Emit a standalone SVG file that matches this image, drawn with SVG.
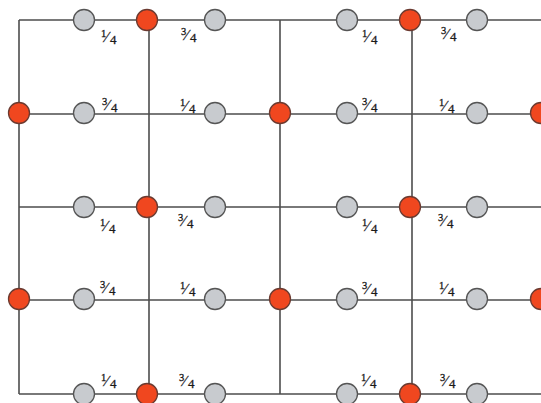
<svg xmlns="http://www.w3.org/2000/svg" width="541" height="403" viewBox="0 0 541 403">
<style>
.ln{stroke:#4d4d4d;stroke-width:1.6;fill:none}
.g{fill:#c8cbcf;stroke:#555;stroke-width:1.3}
.o{fill:#f0471f;stroke:#6b3a30;stroke-width:1.3}
.lb{font-family:"Liberation Serif","Times New Roman",serif;fill:#1a1a1a;stroke:#1a1a1a;stroke-width:0.3}
.n{font-size:10.5px}
.s{font-size:15px}
.d{font-size:13px}
</style>
<rect width="541" height="403" fill="#fff"/>
<g id="connectors">
<line class="ln" x1="19" y1="20" x2="541" y2="20"/>
<line class="ln" x1="19" y1="114" x2="541" y2="114"/>
<line class="ln" x1="19" y1="207" x2="541" y2="207"/>
<line class="ln" x1="19" y1="300" x2="541" y2="300"/>
<line class="ln" x1="19" y1="394" x2="541" y2="394"/>
<line class="ln" x1="19" y1="20" x2="19" y2="394"/>
<line class="ln" x1="149" y1="20" x2="149" y2="394"/>
<line class="ln" x1="280" y1="20" x2="280" y2="394"/>
<line class="ln" x1="412" y1="20" x2="412" y2="394"/>
</g>
<g id="nodes">
<g id="r1c2"><circle class="g" cx="84" cy="20" r="10.5"/></g>
<g id="r1c3"><circle class="o" cx="147" cy="20" r="10.5"/></g>
<g id="r1c4"><circle class="g" cx="215" cy="20" r="10.5"/></g>
<g id="r1c6"><circle class="g" cx="347" cy="20" r="10.5"/></g>
<g id="r1c7"><circle class="o" cx="410" cy="20" r="10.5"/></g>
<g id="r1c8"><circle class="g" cx="477" cy="20" r="10.5"/></g>

<g id="r2c1"><circle class="o" cx="19" cy="113" r="10.5"/></g>
<g id="r2c2"><circle class="g" cx="84" cy="113" r="10.5"/></g>
<g id="r2c4"><circle class="g" cx="215" cy="113" r="10.5"/></g>
<g id="r2c5"><circle class="o" cx="280" cy="113" r="10.5"/></g>
<g id="r2c6"><circle class="g" cx="347" cy="113" r="10.5"/></g>
<g id="r2c8"><circle class="g" cx="477" cy="113" r="10.5"/></g>
<g id="r2c9"><circle class="o" cx="541" cy="113" r="10.5"/></g>

<g id="r3c2"><circle class="g" cx="84" cy="207" r="10.5"/></g>
<g id="r3c3"><circle class="o" cx="147" cy="207" r="10.5"/></g>
<g id="r3c4"><circle class="g" cx="215" cy="207" r="10.5"/></g>
<g id="r3c6"><circle class="g" cx="347" cy="207" r="10.5"/></g>
<g id="r3c7"><circle class="o" cx="410" cy="207" r="10.5"/></g>
<g id="r3c8"><circle class="g" cx="477" cy="207" r="10.5"/></g>

<g id="r4c1"><circle class="o" cx="19" cy="299" r="10.5"/></g>
<g id="r4c2"><circle class="g" cx="84" cy="299" r="10.5"/></g>
<g id="r4c4"><circle class="g" cx="215" cy="299" r="10.5"/></g>
<g id="r4c5"><circle class="o" cx="280" cy="299" r="10.5"/></g>
<g id="r4c6"><circle class="g" cx="347" cy="299" r="10.5"/></g>
<g id="r4c8"><circle class="g" cx="477" cy="299" r="10.5"/></g>
<g id="r4c9"><circle class="o" cx="541" cy="299" r="10.5"/></g>

<g id="r5c2"><circle class="g" cx="84" cy="394" r="10.5"/></g>
<g id="r5c3"><circle class="o" cx="147" cy="394" r="10.5"/></g>
<g id="r5c4"><circle class="g" cx="215" cy="394" r="10.5"/></g>
<g id="r5c6"><circle class="g" cx="347" cy="394" r="10.5"/></g>
<g id="r5c7"><circle class="o" cx="410" cy="394" r="10.5"/></g>
<g id="r5c8"><circle class="g" cx="477" cy="394" r="10.5"/></g>
</g>
<g id="labels">
<text class="lb" transform="translate(101,29)"><tspan class="n" x="0" y="7.5">1</tspan><tspan class="s" x="4.5" y="12.5">⁄</tspan><tspan class="d" x="9" y="14.5">4</tspan></text>
<text class="lb" transform="translate(181,27)"><tspan class="n" x="0" y="7.5">3</tspan><tspan class="s" x="4.5" y="12.5">⁄</tspan><tspan class="d" x="9" y="14.5">4</tspan></text>
<text class="lb" transform="translate(362,29)"><tspan class="n" x="0" y="7.5">1</tspan><tspan class="s" x="4.5" y="12.5">⁄</tspan><tspan class="d" x="9" y="14.5">4</tspan></text>
<text class="lb" transform="translate(441,26)"><tspan class="n" x="0" y="7.5">3</tspan><tspan class="s" x="4.5" y="12.5">⁄</tspan><tspan class="d" x="9" y="14.5">4</tspan></text>

<text class="lb" transform="translate(102,97)"><tspan class="n" x="0" y="7.5">3</tspan><tspan class="s" x="4.5" y="12.5">⁄</tspan><tspan class="d" x="9" y="14.5">4</tspan></text>
<text class="lb" transform="translate(180,98)"><tspan class="n" x="0" y="7.5">1</tspan><tspan class="s" x="4.5" y="12.5">⁄</tspan><tspan class="d" x="9" y="14.5">4</tspan></text>
<text class="lb" transform="translate(362,97)"><tspan class="n" x="0" y="7.5">3</tspan><tspan class="s" x="4.5" y="12.5">⁄</tspan><tspan class="d" x="9" y="14.5">4</tspan></text>
<text class="lb" transform="translate(439,98)"><tspan class="n" x="0" y="7.5">1</tspan><tspan class="s" x="4.5" y="12.5">⁄</tspan><tspan class="d" x="9" y="14.5">4</tspan></text>

<text class="lb" transform="translate(100,218)"><tspan class="n" x="0" y="7.5">1</tspan><tspan class="s" x="4.5" y="12.5">⁄</tspan><tspan class="d" x="9" y="14.5">4</tspan></text>
<text class="lb" transform="translate(178,213)"><tspan class="n" x="0" y="7.5">3</tspan><tspan class="s" x="4.5" y="12.5">⁄</tspan><tspan class="d" x="9" y="14.5">4</tspan></text>
<text class="lb" transform="translate(362,218)"><tspan class="n" x="0" y="7.5">1</tspan><tspan class="s" x="4.5" y="12.5">⁄</tspan><tspan class="d" x="9" y="14.5">4</tspan></text>
<text class="lb" transform="translate(438,213)"><tspan class="n" x="0" y="7.5">3</tspan><tspan class="s" x="4.5" y="12.5">⁄</tspan><tspan class="d" x="9" y="14.5">4</tspan></text>

<text class="lb" transform="translate(100,280)"><tspan class="n" x="0" y="7.5">3</tspan><tspan class="s" x="4.5" y="12.5">⁄</tspan><tspan class="d" x="9" y="14.5">4</tspan></text>
<text class="lb" transform="translate(180,281)"><tspan class="n" x="0" y="7.5">1</tspan><tspan class="s" x="4.5" y="12.5">⁄</tspan><tspan class="d" x="9" y="14.5">4</tspan></text>
<text class="lb" transform="translate(362,281)"><tspan class="n" x="0" y="7.5">3</tspan><tspan class="s" x="4.5" y="12.5">⁄</tspan><tspan class="d" x="9" y="14.5">4</tspan></text>
<text class="lb" transform="translate(439,281)"><tspan class="n" x="0" y="7.5">1</tspan><tspan class="s" x="4.5" y="12.5">⁄</tspan><tspan class="d" x="9" y="14.5">4</tspan></text>

<text class="lb" transform="translate(101,373)"><tspan class="n" x="0" y="7.5">1</tspan><tspan class="s" x="4.5" y="12.5">⁄</tspan><tspan class="d" x="9" y="14.5">4</tspan></text>
<text class="lb" transform="translate(179,373)"><tspan class="n" x="0" y="7.5">3</tspan><tspan class="s" x="4.5" y="12.5">⁄</tspan><tspan class="d" x="9" y="14.5">4</tspan></text>
<text class="lb" transform="translate(361,373)"><tspan class="n" x="0" y="7.5">1</tspan><tspan class="s" x="4.5" y="12.5">⁄</tspan><tspan class="d" x="9" y="14.5">4</tspan></text>
<text class="lb" transform="translate(440,373)"><tspan class="n" x="0" y="7.5">3</tspan><tspan class="s" x="4.5" y="12.5">⁄</tspan><tspan class="d" x="9" y="14.5">4</tspan></text>
</g>
</svg>
